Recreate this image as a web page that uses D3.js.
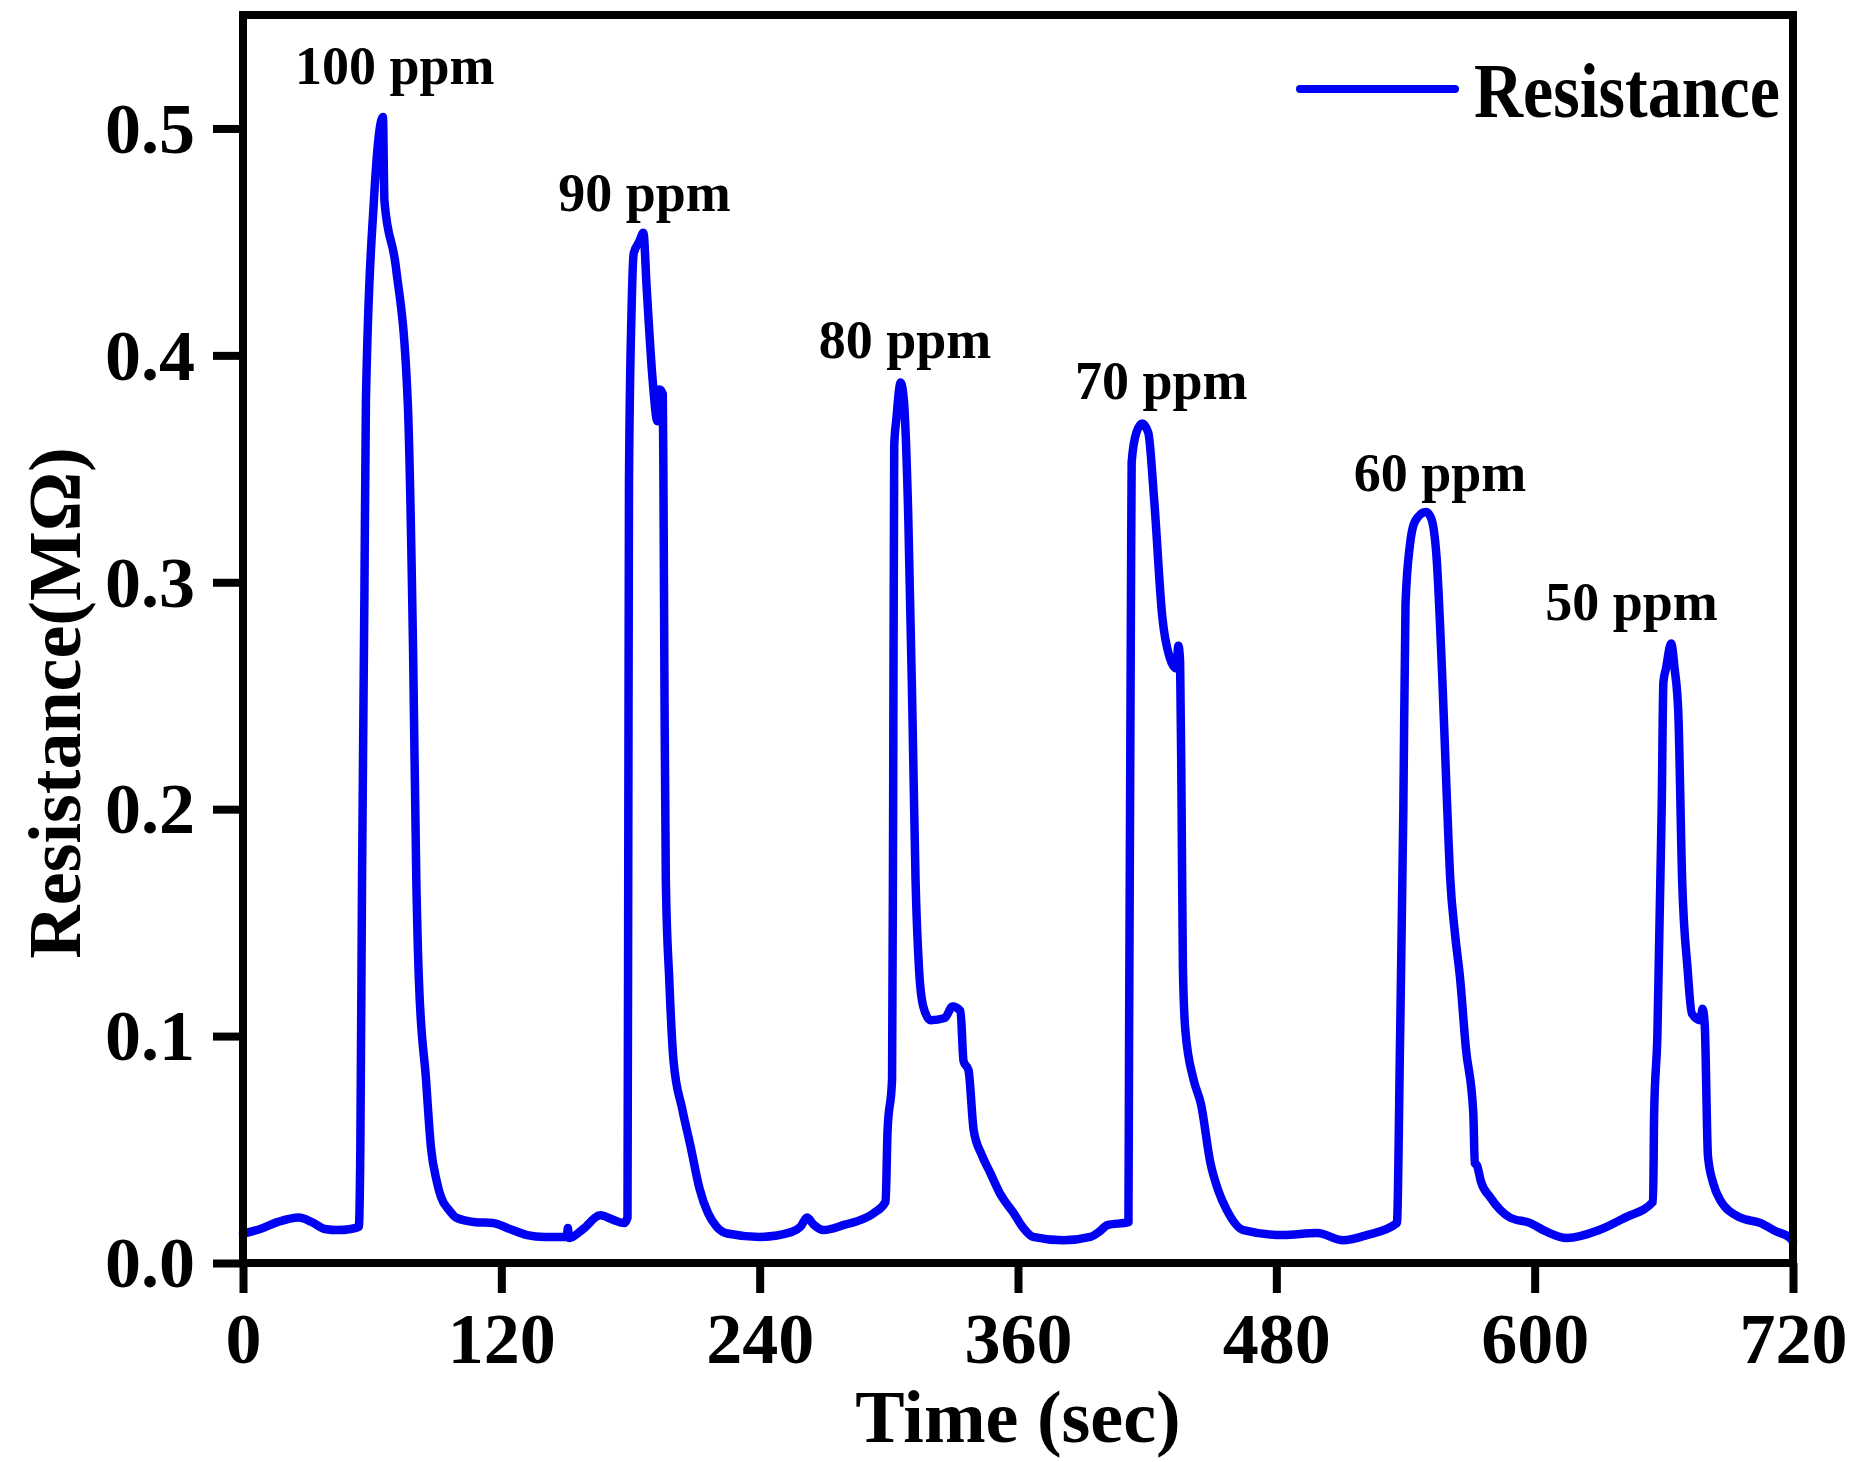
<!DOCTYPE html>
<html>
<head>
<meta charset="utf-8">
<script src="https://cdn.jsdelivr.net/npm/d3@7"></script>
<style>
  html, body { margin: 0; padding: 0; background: #fff; }
  svg { display: block; }
  text { font-family: "Liberation Serif", "Times New Roman", serif; font-weight: bold; fill: #000; }
</style>
</head>
<body>
<svg id="chart" width="1856" height="1462"></svg>
<script>
// ---- data ----
const timeSec = [0,8,16,26,32,38,44,50,53.8,54.5,55.3,56.4,57.1,60.8,65,65.7,71,76.5,79,80.5,81.7,85,87.3,90,92,96,99,108,116,124,132,140,147,150.4,150.9,151.5,158,166,172,177,178.6,179,179.3,180.5,181.5,184,186,187.5,190.3,192.5,193.5,195,195.3,195.8,196.4,198,200,204,208,212,216,220,225,240,255,259,262,265,269.7,280,287,293,298.5,299.4,301.5,302,302.5,303.5,305.5,307,309,311,312.4,314,316,319.4,326,329.6,333.3,334.7,337,339.4,343,347.2,352,358,362,367,381,393.6,398,401.5,411.3,411.6,412.5,412.8,415,417.7,420.5,423.2,427,430.4,433.5,434.5,435.3,436,436.6,437.7,441.5,445,449.4,453,457,464.7,483,499,511,522,536,537.5,539,540,542,544.5,549.5,552,554.5,557,559,560.8,563,565.4,568,571.5,572.2,573.2,575,579.3,588.6,598,605,615,630,642,655,655.5,657,659,659.8,661,663.4,665,666.7,668.5,671,673,677,678,679,680.5,683,686,695.5,705,712,718.6,720];
const resistance = [0.013,0.015,0.018,0.020,0.018,0.015,0.0145,0.015,0.016,0.05,0.17,0.295,0.38,0.468,0.505,0.468,0.439,0.38,0.27,0.169,0.125,0.081,0.051,0.036,0.029,0.023,0.020,0.018,0.0176,0.015,0.0123,0.0115,0.0115,0.0115,0.0154,0.011,0.015,0.021,0.019,0.0176,0.02,0.2,0.345,0.42,0.445,0.45,0.454,0.43,0.389,0.371,0.385,0.383,0.345,0.25,0.169,0.125,0.089,0.068,0.051,0.033,0.022,0.016,0.013,0.0115,0.0137,0.016,0.020,0.017,0.0145,0.017,0.019,0.022,0.027,0.058,0.081,0.2,0.36,0.372,0.388,0.38,0.33,0.24,0.169,0.13,0.113,0.107,0.108,0.113,0.111,0.089,0.085,0.0586,0.048,0.0396,0.030,0.022,0.016,0.0115,0.010,0.0115,0.014,0.0167,0.018,0.1,0.3,0.353,0.366,0.370,0.366,0.337,0.285,0.267,0.262,0.272,0.265,0.2,0.13,0.103,0.081,0.07,0.044,0.032,0.0233,0.0145,0.0123,0.0132,0.010,0.0123,0.0176,0.1,0.2,0.29,0.316,0.327,0.331,0.328,0.31,0.26,0.21,0.169,0.145,0.125,0.095,0.066,0.044,0.043,0.036,0.029,0.020,0.0176,0.014,0.011,0.0145,0.020,0.027,0.066,0.1,0.2,0.256,0.262,0.273,0.262,0.243,0.169,0.13,0.110,0.107,0.112,0.105,0.047,0.035,0.028,0.020,0.0176,0.014,0.011,0.0095];

const xTicks = [0,120,240,360,480,600,720];
const yTicks = [0.0,0.1,0.2,0.3,0.4,0.5];

const annLabels = ["100 ppm","90 ppm","80 ppm","70 ppm","60 ppm","50 ppm"];
const annTime   = [70.5, 186.5, 307.5, 426.5, 556, 645];
const annValue  = [0.5195, 0.4635, 0.3988, 0.3806, 0.3401, 0.2832];

const seriesName = "Resistance";
const xTitle = "Time (sec)";
const yTitle = "Resistance(MΩ)";

// ---- layout ----
const L = 243, R = 1793, T = 15, B = 1263;
const svg = d3.select("#chart");

const x = d3.scaleLinear().domain([0, 720]).range([L, R]);
const y = d3.scaleLinear().domain([0, 0.55]).range([B, T]);

// data line
const pts = timeSec.map((t, i) => [t, resistance[i]]);
const line = d3.line().x(d => x(d[0])).y(d => y(d[1])).curve(d3.curveMonotoneX);
svg.append("path")
  .datum(pts)
  .attr("d", line)
  .attr("fill", "none")
  .attr("stroke", "#0000f2")
  .attr("stroke-width", 8.5)
  .attr("stroke-linejoin", "round")
  .attr("stroke-linecap", "round");

// axes
const yAxis = d3.axisLeft(y).tickValues(yTicks).tickFormat(d3.format(".1f")).tickSize(30).tickPadding(18);
const gy = svg.append("g").attr("transform", `translate(${L},0)`).call(yAxis);
gy.select(".domain").remove();
gy.selectAll(".tick line").attr("stroke", "#000").attr("stroke-width", 8);
gy.selectAll(".tick text").attr("font-size", 72).attr("font-family", "Liberation Serif").attr("font-weight", "bold").attr("dy", "0.33em");

const xAxis = d3.axisBottom(x).tickValues(xTicks).tickFormat(d3.format("d")).tickSize(30).tickPadding(0);
const gx = svg.append("g").attr("transform", `translate(0,${B})`).call(xAxis);
gx.select(".domain").remove();
gx.selectAll(".tick line").attr("stroke", "#000").attr("stroke-width", 8);
gx.selectAll(".tick text").attr("font-size", 72).attr("font-family", "Liberation Serif").attr("font-weight", "bold").attr("y", 100).attr("dy", 0);

// frame
svg.append("rect")
  .attr("x", L).attr("y", T).attr("width", R - L).attr("height", B - T)
  .attr("fill", "none").attr("stroke", "#000").attr("stroke-width", 8);

// annotations
annLabels.forEach((s, i) => {
  svg.append("text")
    .attr("x", x(annTime[i])).attr("y", y(annValue[i]))
    .attr("text-anchor", "middle")
    .attr("font-size", 54)
    .text(s);
});

// legend
svg.append("line")
  .attr("x1", 1300).attr("x2", 1455).attr("y1", 89).attr("y2", 89)
  .attr("stroke", "#0000f2").attr("stroke-width", 8).attr("stroke-linecap", "round");
svg.append("text")
  .attr("x", 1474).attr("y", 117)
  .attr("font-size", 68)
  .attr("transform", "translate(0,117) scale(1,1.15) translate(0,-117)")
  .text(seriesName);

// axis titles
svg.append("text")
  .attr("x", (L + R) / 2).attr("y", 1442)
  .attr("text-anchor", "middle").attr("font-size", 74)
  .text(xTitle);
svg.append("text")
  .attr("transform", `translate(80,${(T + B) / 2 + 64}) rotate(-90)`)
  .attr("text-anchor", "middle").attr("font-size", 74)
  .text(yTitle);
</script>
</body>
</html>
